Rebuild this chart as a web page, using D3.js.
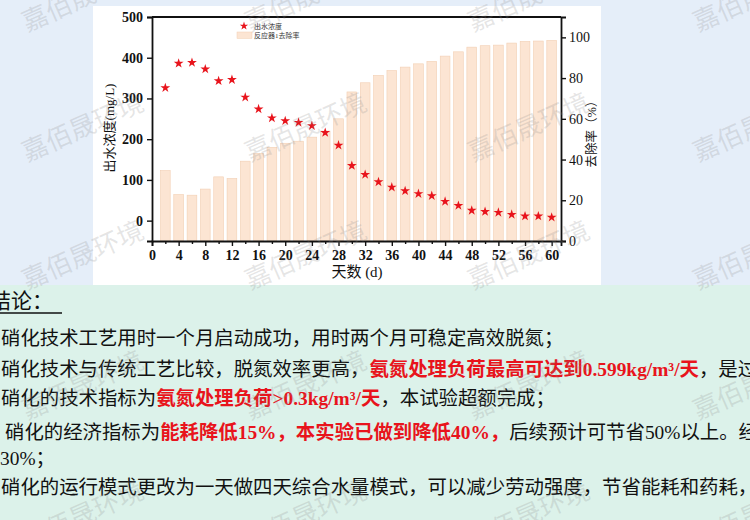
<!DOCTYPE html>
<html><head><meta charset="utf-8">
<script src="https://cdn.jsdelivr.net/npm/d3@7"></script>
<style>html,body{margin:0;padding:0;overflow:hidden;background:#e5eef9}</style>
</head><body>
<svg id="c" width="750" height="520"></svg>
<script>
// ---- data ----
const days = [2,4,6,8,10,12,14,16,18,20,22,24,26,28,30,32,34,36,38,40,42,44,46,48,50,52,54,56,58,60];
const effluent = [326,386,388,372,343,346,303,274,252,245,241,233,216,185,135,113,95,82,73,66,61,47,37,25,22,20,15,11,11,8];
const removal = [34.6,22.8,22.5,25.5,31.5,30.7,39.2,43,46,48,49,51,54,60,73.2,77.7,81.3,83.7,85.4,87,88.2,90.8,92.9,95.2,95.9,96.2,97.2,98,98.2,98.5];
const xTicks = [0,4,8,12,16,20,24,28,32,36,40,44,48,52,56,60];
const xMinor = [2,6,10,14,18,22,26,30,34,38,42,46,50,54,58];
const leftTicks = [0,100,200,300,400,500];
const rightTicks = [0,20,40,60,80,100];
const legendLabels = ["出水浓度","反应器1去除率"];
const axisLabels = {x:"天数 (d)", left:"出水浓度(mg/L)", right:"去除率（%）"};
const heading = "结论：";
const textLines = [
  [["硝化技术工艺用时一个月启动成功，用时两个月可稳定高效脱氮；","n"]],
  [["硝化技术与传统工艺比较，脱氮效率更高，","n"],["氨氮处理负荷最高可达到","r"],["0.599kg/m³/","rl"],["天","r"],["，是过去","n"]],
  [["硝化的技术指标为","n"],["氨氮处理负荷","r"],[">0.3kg/m³/","rl"],["天","r"],["，本试验超额完成；","n"]],
  [["硝化的经济指标为","n"],["能耗降低","r"],["15%","rl"],["，本实验已做到降低","r"],["40%","rl"],["，","r"],["后续预计可节省","n"],["50%","nl"],["以上。经","n"]],
  [["30%","nl"],["；","n"]],
  [["硝化的运行模式更改为一天做四天综合水量模式，可以减少劳动强度，节省能耗和药耗，降","n"]]
];
const watermark = "嘉佰晟环境";

// ---- layout ----
const svg = d3.select("#c");
const W = 750, H = 520;
const L = 152, R = 561, T = 17, B = 241;
const serif = "'Liberation Serif','Noto Sans CJK SC',serif";
const cjk = "'Noto Sans CJK SC','Liberation Serif',sans-serif";

// backgrounds
svg.append("rect").attr("x",0).attr("y",0).attr("width",W).attr("height",285).attr("fill","#e5eef9");
svg.append("rect").attr("x",0).attr("y",285).attr("width",W).attr("height",H-285).attr("fill","#dcf2ea");
svg.append("rect").attr("x",93).attr("y",6).attr("width",508).attr("height",279).attr("fill","#ffffff");

const x = d3.scaleLinear().domain([0,61.4]).range([L,R]);
const yL = d3.scaleLinear().domain([-50,500]).range([B,T]);
const yR = d3.scaleLinear().domain([0,110]).range([B,T]);
const bw = (x(2)-x(0))*0.73;

// bars
svg.append("g").selectAll("rect").data(days).join("rect")
  .attr("x",(d)=>x(d)-bw/2).attr("width",bw)
  .attr("y",(d,i)=>yR(removal[i])).attr("height",(d,i)=>yR(0)-yR(removal[i]))
  .attr("fill","#fce5d3").attr("stroke","#f2cfb3").attr("stroke-width",0.6);

// stars
const star = d3.symbol().type(d3.symbolStar).size(30);
svg.append("g").selectAll("path").data(days).join("path")
  .attr("transform",(d,i)=>`translate(${x(d)},${yL(effluent[i])})`)
  .attr("d",star).attr("fill","#e8141c");

// axes
const gx = svg.append("g").attr("transform",`translate(0,${B})`)
  .call(d3.axisBottom(x).tickValues(xTicks).tickSize(5).tickPadding(4).tickFormat(d3.format("d")));
svg.append("g").attr("transform",`translate(0,${B})`)
  .call(d3.axisBottom(x).tickValues(xMinor).tickSize(3).tickFormat(""))
  .call(g=>g.select(".domain").remove());
const gl = svg.append("g").attr("transform",`translate(${L},0)`)
  .call(d3.axisLeft(yL).tickValues(leftTicks).tickSize(5).tickPadding(4));
const gr = svg.append("g").attr("transform",`translate(${R},0)`)
  .call(d3.axisRight(yR).tickValues(rightTicks).tickSize(5).tickPadding(3));
svg.selectAll(".domain").attr("stroke","#111").attr("stroke-width",1.8);
svg.selectAll(".tick line").attr("stroke","#111").attr("stroke-width",1.4);
gx.selectAll("text").attr("font-family",serif).attr("font-weight","bold").attr("font-size",14).attr("fill","#111");
gl.selectAll("text").attr("font-family",serif).attr("font-weight","bold").attr("font-size",14).attr("fill","#111");
gr.selectAll("text").attr("font-family",serif).attr("font-size",14).attr("fill","#111");
// top frame
svg.append("line").attr("x1",L).attr("x2",R).attr("y1",yL(500)).attr("y2",yL(500)).attr("stroke","#111").attr("stroke-width",1.8);

// axis labels
svg.append("text").attr("x",357).attr("y",277).attr("text-anchor","middle")
  .attr("font-family",serif).attr("font-size",15).attr("fill","#111").text(axisLabels.x);
svg.append("text").attr("transform","translate(114,128) rotate(-90)").attr("text-anchor","middle")
  .attr("font-family",serif).attr("font-size",13).attr("fill","#111").text(axisLabels.left);
svg.append("text").attr("transform","translate(596,131) rotate(-90)").attr("text-anchor","middle")
  .attr("font-family",serif).attr("font-size",12.5).attr("fill","#111").text(axisLabels.right);

// legend
svg.append("path").attr("transform","translate(244,26)").attr("d",d3.symbol().type(d3.symbolStar).size(22)).attr("fill","#e8141c");
svg.append("text").attr("x",254).attr("y",28.5).attr("font-family",serif).attr("font-size",7).attr("fill","#333").text(legendLabels[0]);
svg.append("rect").attr("x",237).attr("y",32).attr("width",15).attr("height",6.5).attr("fill","#fce5d3").attr("stroke","#f2cfb3").attr("stroke-width",0.5);
svg.append("text").attr("x",254).attr("y",37.5).attr("font-family",serif).attr("font-size",7).attr("fill","#333").text(legendLabels[1]);

// conclusion text
svg.append("text").attr("x",-10).attr("y",308).attr("font-family",cjk).attr("font-size",21).attr("fill","#111").text(heading);
svg.append("line").attr("x1",0).attr("x2",62).attr("y1",313).attr("y2",313).attr("stroke","#111").attr("stroke-width",1.5);
const baselines = [345,376,405,439,465,494];
const starts = [1,1,1,5,0,1];
textLines.forEach((segs,i)=>{
  const t = svg.append("text").attr("x",starts[i]).attr("y",baselines[i]).attr("font-size",19.4).attr("fill","#111");
  segs.forEach(([s,st])=>{
    const sp = t.append("tspan").text(s);
    const red = st[0]==="r", latin = st.length>1;
    sp.attr("font-family", latin ? serif : cjk)
      .attr("fill", red ? "#e8141c" : "#111")
      .attr("font-weight", red ? "bold" : "normal");
  });
});

// watermarks
const wx = [27,250,473,698], wy = [32,162,290,420,550];
const wm = svg.append("g").attr("pointer-events","none");
wy.forEach(yy=>wx.forEach(xx=>{
  wm.append("text").attr("transform",`translate(${xx},${yy}) rotate(-24)`)
    .attr("font-family",cjk).attr("font-size",26).attr("fill","#8c8c8c").attr("fill-opacity",0.22).text(watermark);
}));
</script>
</body></html>
